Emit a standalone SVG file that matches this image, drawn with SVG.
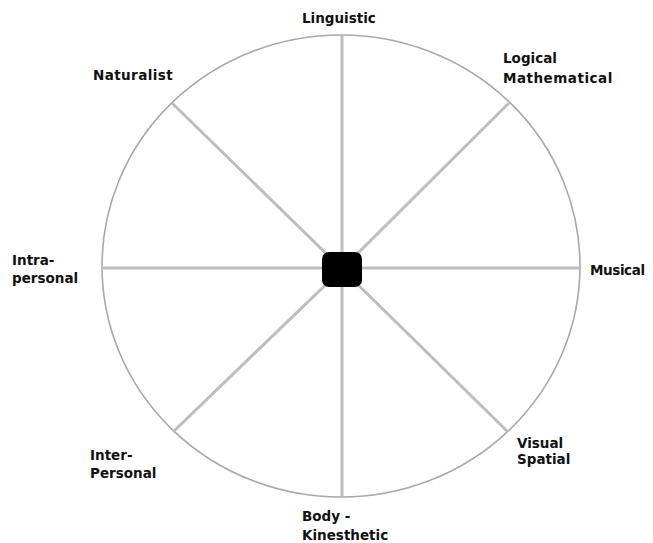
<svg xmlns="http://www.w3.org/2000/svg" width="653" height="543" viewBox="0 0 653 543">
<style>
.lbl{font-family:"DejaVu Sans",Verdana,sans-serif;font-weight:bold;font-size:13.5px;fill:#111}
.spoke{stroke:#bdbdbd;stroke-width:3;fill:none}
.rim{stroke:#a8a8a8;stroke-width:1.6;fill:none}
</style>
<rect width="653" height="543" fill="#fff"/>
<g id="wheel">
<ellipse class="rim" cx="341" cy="266" rx="239" ry="231"/>
</g>
<g id="connectors">
<line class="spoke" x1="342" y1="269" x2="342" y2="35"/>
<line class="spoke" x1="342" y1="269" x2="342" y2="497"/>
<line class="spoke" x1="342" y1="268" x2="102" y2="268"/>
<line class="spoke" x1="342" y1="268" x2="580" y2="268"/>
<line class="spoke" x1="342" y1="269" x2="172" y2="103"/>
<line class="spoke" x1="342" y1="269" x2="509" y2="103"/>
<line class="spoke" x1="342" y1="269" x2="173" y2="432"/>
<line class="spoke" x1="342" y1="269" x2="508" y2="432"/>
</g>
<g id="center"><rect x="322" y="252" width="40" height="35" rx="7" fill="#000"/></g>
<g id="linguistic"><text class="lbl" x="302" y="23">Linguistic</text></g>
<g id="logical"><text class="lbl" x="503" y="63">Logical</text><text class="lbl" x="503" y="83" letter-spacing="0.5">Mathematical</text></g>
<g id="naturalist"><text class="lbl" x="93" y="80" letter-spacing="0.4">Naturalist</text></g>
<g id="intra"><text class="lbl" x="12" y="265">Intra-</text><text class="lbl" x="12" y="283">personal</text></g>
<g id="musical"><text class="lbl" x="590" y="275" letter-spacing="-0.4">Musical</text></g>
<g id="inter"><text class="lbl" x="90" y="460">Inter-</text><text class="lbl" x="90" y="478">Personal</text></g>
<g id="visual"><text class="lbl" x="517" y="448">Visual</text><text class="lbl" x="517" y="464">Spatial</text></g>
<g id="body"><text class="lbl" x="302" y="521">Body -</text><text class="lbl" x="302" y="540">Kinesthetic</text></g>
</svg>
